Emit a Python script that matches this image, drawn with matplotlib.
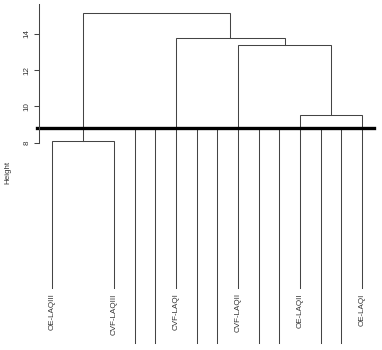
import numpy as np
import matplotlib.pyplot as plt

plt.rcParams['font.family'] = ['Liberation Sans', 'DejaVu Sans']

# leaves (slot positions along x) and their labels
leaf_x = [1, 4, 7, 10, 13, 16]
leaf_labels = ['OE-LAQIII', 'CVF-LAQIII', 'CVF-LAQI', 'CVF-LAQII', 'OE-LAQII', 'OE-LAQI']
leaf_h = 0.0

# merges: (left child, right child, height); children are leaf index or 'm<k>'
merges = [
    (0, 1, 8.1),
    (4, 5, 9.54),
    (3, 'm1', 13.38),
    (2, 'm2', 13.77),
    ('m0', 'm3', 15.14),
]

# branches cut off below the threshold
stub_x = [5, 6, 8, 9, 11, 12, 14, 15]
stub_bottom = -3.0
cut_h = 8.82

yticks = [8, 10, 12, 14]

W, H = 382, 350
fig = plt.figure(figsize=(W / 100, H / 100), dpi=100)
# plot region in pixels
px_l, px_r = 39, 374
ylo, yhi = -3.2, 15.857
px_per_h = 18.17
py_bot = 143 + (8 - ylo) * px_per_h
ax = fig.add_axes([px_l / W, 1 - py_bot / H, (px_r - px_l) / W, py_bot / H])
ax.set_xlim(0.371, 16.58)
ax.set_ylim(ylo, yhi)

lc = '#444444'
tc = '#333333'
lw = 0.75

# draw dendrogram
pos = {}
hgt = {}
for i, x in enumerate(leaf_x):
    pos[i] = x
    hgt[i] = leaf_h
for k, (a, b, h) in enumerate(merges):
    xa, xb = pos[a], pos[b]
    ax.plot([xa, xa, xb, xb], [hgt[a], h, h, hgt[b]], color=lc, lw=lw,
            solid_joinstyle='miter', clip_on=False)
    pos['m%d' % k] = (xa + xb) / 2
    hgt['m%d' % k] = h

for x in stub_x:
    ax.plot([x, x], [stub_bottom, cut_h], color=lc, lw=lw, clip_on=False)

for x, lab in zip(leaf_x, leaf_labels):
    ax.text(x, leaf_h - 0.27, lab, rotation=90, ha='center', va='top',
            fontsize=5.8, color=tc)

ax.plot([0.27, 16.58], [cut_h, cut_h], color='black', lw=2.4, clip_on=False)

# axis
for s in ['top', 'right', 'bottom']:
    ax.spines[s].set_visible(False)
ax.spines['left'].set_bounds(8, 15.65)
ax.spines['left'].set_color(lc)
ax.spines['left'].set_linewidth(lw)
ax.set_xticks([])
ax.set_yticks(yticks)
ax.set_yticklabels([str(t) for t in yticks], rotation=90, va='center',
                   fontsize=5.8, color=tc)
ax.tick_params(axis='y', length=3.5, width=lw, color=lc, pad=2.5)

fig.text(8 / W, 1 - 172 / H, 'Height', rotation=90, ha='center', va='center',
         fontsize=5.8, color=tc)

fig.savefig('out.png', dpi=100)
